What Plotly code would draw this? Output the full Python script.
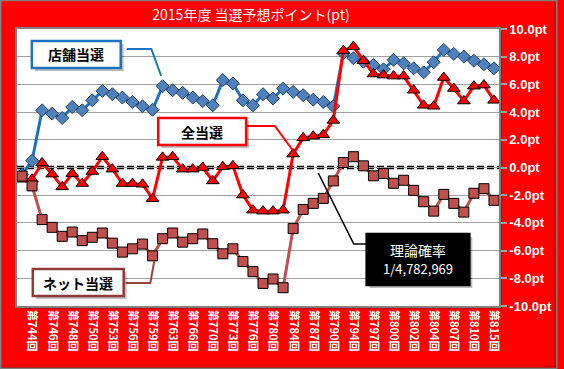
import plotly.graph_objects as go

# ---------------- data ----------------
draws = [743, 744, 745, 746, 747, 748, 749, 750, 752, 753, 755, 756, 758, 759, 761, 763,
         765, 766, 768, 770, 772, 773, 775, 776, 778, 780, 782, 784, 786, 787, 789, 790,
         792, 794, 796, 797, 799, 800, 801, 802, 803, 804, 806, 807, 809, 810, 813, 815]
categories = [f"第{d}回" for d in draws]

store_win = [-0.5, 0.49, 4.13, 3.89, 3.57, 4.37, 4.13, 4.85, 5.53, 5.29, 5.05, 4.73,
             4.42, 4.17, 5.87, 5.58, 5.39, 5.05, 4.80, 4.49, 6.31, 6.07, 4.85, 4.49,
             5.29, 4.98, 5.70, 5.46, 5.22, 4.90, 4.73, 4.42, 8.25, 7.89, 7.64, 7.40,
             7.09, 7.77, 7.52, 7.16, 6.87, 7.60, 8.49, 8.20, 8.01, 7.71, 7.45, 7.16]

all_win = [-0.85, -0.85, 0.33, -0.48, -1.40, -0.44, -1.16, -0.29, 0.78, -0.12, -1.16, -1.16,
           -1.21, -2.25, 0.73, 0.78, -0.12, -0.12, 0.00, -0.97, 0.05, 0.12, -1.99, -3.08,
           -3.15, -3.15, -3.08, 0.97, 2.14, 2.26, 2.36, 3.40, 8.44, 8.73, 7.71, 6.75,
           6.67, 6.60, 6.60, 5.58, 4.49, 4.42, 6.50, 5.70, 4.80, 5.87, 5.95, 4.85]

net_win = [-0.62, -1.33, -3.76, -4.32, -4.97, -4.66, -5.28, -5.04, -4.73, -5.46, -6.11, -5.87,
           -5.53, -6.38, -5.14, -4.73, -5.39, -5.14, -4.80, -5.50, -6.23, -5.87, -6.79, -7.52,
           -8.37, -8.05, -8.68, -4.41, -3.03, -2.59, -2.23, -0.97, 0.36, 0.78, 0.12, -0.60,
           -0.44, -1.14, -0.92, -1.65, -2.47, -3.15, -1.94, -2.59, -3.22, -1.86, -1.53, -2.37]

y_ticks = [-10, -8, -6, -4, -2, 0, 2, 4, 6, 8, 10]
y_ticklabels = [f"{v:.1f}pt" for v in y_ticks]

labeled_draws = [744, 746, 748, 750, 753, 756, 759, 763, 766, 770, 773, 776,
                 780, 784, 787, 790, 794, 797, 800, 802, 804, 807, 810, 815]
x_tickvals = [f"第{d}回" for d in labeled_draws]

# ---------------- layout helpers ----------------
W, H = 564, 369
PL, PR, PT, PB = 17, 505, 29, 306


def px(x):
    return (x - PL) / (PR - PL)


def py(y):
    return (PB - y) / (PB - PT)


fig = go.Figure()

fig.add_trace(go.Scatter(
    x=categories, y=store_win, mode="lines+markers", name="店舗当選",
    line=dict(color="#1E72BE", width=3),
    marker=dict(symbol="diamond", size=10, color="#4F81BD",
                line=dict(color="#26405F", width=1))))

fig.add_trace(go.Scatter(
    x=categories, y=all_win, mode="lines+markers", name="全当選",
    line=dict(color="#FF0000", width=3),
    marker=dict(symbol="triangle-up", size=11, color="#FF0000",
                line=dict(color="#000000", width=1))))

fig.add_trace(go.Scatter(
    x=categories, y=net_win, mode="lines+markers", name="ネット当選",
    line=dict(color="#C0504D", width=3),
    marker=dict(symbol="square", size=10, color="#C0504D",
                line=dict(color="#000000", width=1))))

shapes = []

# outer frame shadow (darker right/bottom edge)
for i, op in enumerate([0.10, 0.18, 0.28, 0.4]):
    shapes.append(dict(type="rect", xref="paper", yref="paper",
                       x0=px(W - 4 + i), x1=px(W - 3 + i), y0=py(H), y1=py(0),
                       fillcolor=f"rgba(60,0,0,{op})", line=dict(width=0), layer="below"))
    shapes.append(dict(type="rect", xref="paper", yref="paper",
                       x0=px(0), x1=px(W), y0=py(H - 3 + i), y1=py(H - 4 + i),
                       fillcolor=f"rgba(60,0,0,{op})", line=dict(width=0), layer="below"))

# outer gray border
shapes.append(dict(type="rect", xref="paper", yref="paper",
                   x0=px(0.5), x1=px(W - 0.5), y0=py(H - 0.5), y1=py(0.5),
                   line=dict(color="#808080", width=1.5), layer="below"))

# plot area shadow (strips just outside the plot area)
shapes.append(dict(type="rect", xref="paper", yref="paper",
                   x0=px(PL + 3), x1=px(PR + 3), y0=py(PB + 3), y1=py(PB),
                   fillcolor="rgba(80,0,0,0.35)", line=dict(width=0), layer="below"))
shapes.append(dict(type="rect", xref="paper", yref="paper",
                   x0=px(PR), x1=px(PR + 3), y0=py(PB + 3), y1=py(PT + 3),
                   fillcolor="rgba(80,0,0,0.35)", line=dict(width=0), layer="below"))

# zero reference line (dashed)
shapes.append(dict(type="line", xref="paper", yref="y", x0=0, x1=1, y0=0, y1=0,
                   line=dict(color="#000000", width=3.5, dash="7px,3px"), layer="between"))


def callout_box(x0, y0, x1, y1, border, fill):
    # shadow
    shapes.append(dict(type="rect", xref="paper", yref="paper",
                       x0=px(x0 + 3), x1=px(x1 + 3), y0=py(y1 + 3), y1=py(y0 + 3),
                       fillcolor="rgba(0,0,0,0.25)", line=dict(width=0)))
    shapes.append(dict(type="rect", xref="paper", yref="paper",
                       x0=px(x0), x1=px(x1), y0=py(y1), y1=py(y0),
                       fillcolor=fill, line=dict(color=border, width=2.5)))


def connector(points, color, width=2):
    path = "M " + " L ".join(f"{px(a)},{py(b)}" for a, b in points)
    shapes.append(dict(type="path", xref="paper", yref="paper", path=path,
                       line=dict(color=color, width=width)))


# 店舗当選
connector([(128, 49), (153, 49), (163, 76)], "#1E72BE")
callout_box(32, 41, 122, 68, "#1E72BE", "#FFFFFF")
# 全当選
connector([(250, 126), (278, 126), (296, 150)], "#FF0000")
callout_box(160, 118, 249, 145, "#FF0000", "#FFFFFF")
# ネット当選
connector([(127, 283), (152, 283), (156, 261)], "#A0403C")
callout_box(33, 269, 125, 296, "#8E3B38", "#FFFFFF")
# 理論確率
connector([(322, 173), (358, 244), (371, 244)], "#000000", 1.5)
callout_box(371, 234, 475, 285, "#000000", "#000000")


def label(text, x, y, size, color):
    return dict(text=text, x=px(x), y=py(y), xref="paper", yref="paper",
                xanchor="center", yanchor="middle", showarrow=False,
                font=dict(size=size, color=color, family="Noto Sans CJK JP"))


annotations = [
    label("<b>店舗当選</b>", 77, 54.5, 14, "#000000"),
    label("<b>全当選</b>", 204.5, 131.5, 14, "#000000"),
    label("<b>ネット当選</b>", 79, 282.5, 14, "#000000"),
    label("理論確率", 423, 250, 14, "#FFFFFF"),
    label("1/4,782,969", 423, 268, 13, "#FFFFFF"),
]

fig.update_layout(
    width=W, height=H,
    margin=dict(l=PL, r=W - PR, t=PT, b=H - PB, pad=0),
    paper_bgcolor="#FF0000",
    plot_bgcolor="#FFFFFF",
    showlegend=False,
    title=dict(text="2015年度 当選予想ポイント(pt)", x=251 / W, xanchor="center",
               y=1 - 15 / H, yanchor="middle",
               font=dict(size=14, color="#FFFFFF", family="Noto Sans CJK JP")),
    shapes=shapes,
    annotations=annotations,
)

fig.update_xaxes(
    type="category", categoryorder="array", categoryarray=categories,
    range=[-0.5, len(categories) - 0.5],
    tickmode="array", tickvals=x_tickvals, ticktext=x_tickvals,
    tickangle=90, ticks="", showgrid=False,
    tickfont=dict(size=11, color="#FFFFFF", family="Noto Sans CJK JP", weight="bold"),
    showline=True, linecolor="#808080", linewidth=1.5, mirror=True,
    zeroline=False,
)

fig.update_yaxes(
    side="right", range=[-10, 10],
    tickmode="array", tickvals=y_ticks, ticktext=y_ticklabels,
    ticks="outside", ticklen=6, tickcolor="#A0A0A0", tickwidth=1.5,
    tickfont=dict(size=13, color="#FFFFFF", family="Liberation Sans", weight="bold"),
    showgrid=True, gridcolor="#A0A0A0", gridwidth=1,
    showline=True, linecolor="#808080", linewidth=1.5, mirror=True,
    zeroline=False,
)

fig.write_html(
    "out.html",
    config={"displayModeBar": False},
    post_script="document.body.style.margin='0';document.body.style.overflow='hidden';",
)
